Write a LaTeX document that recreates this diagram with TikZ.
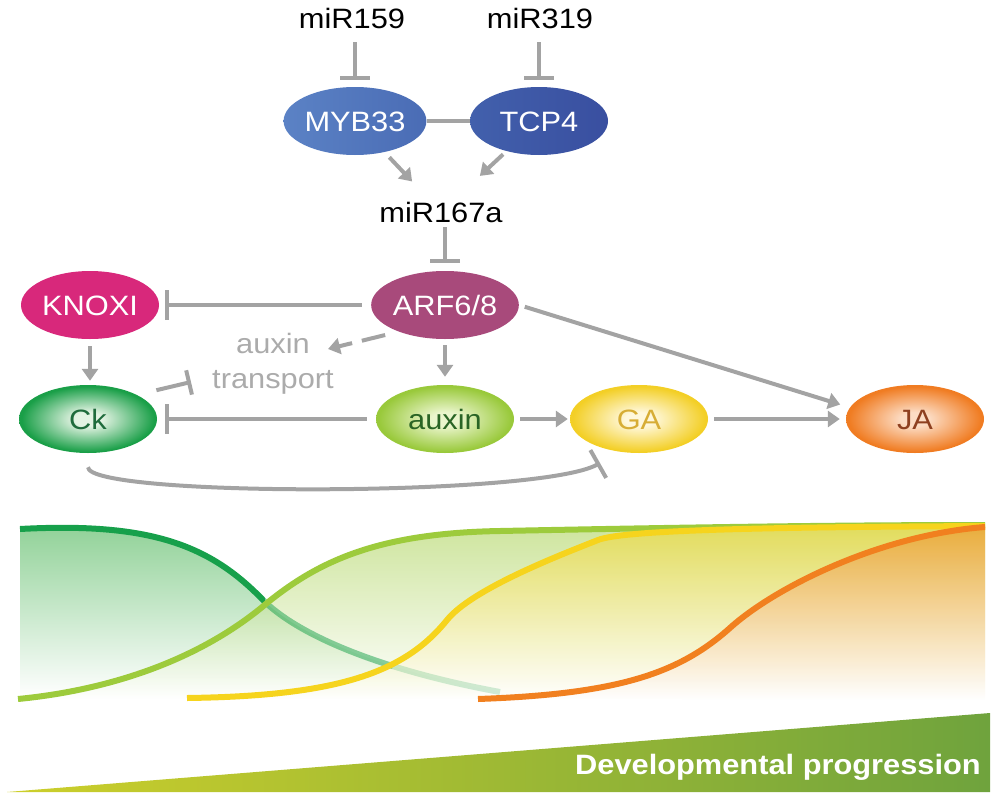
\documentclass[tikz,border=0pt]{standalone}
\usepackage{fontspec}
\setmainfont{Liberation Sans}[FakeStretch=1.1]
\usepackage{xcolor}
\usepackage{tikz}
\usetikzlibrary{shapes.geometric}
\usetikzlibrary{arrows.meta}
\tikzset{>={Triangle[width=16pt,length=12pt]}}

\definecolor{lgray}{HTML}{A3A3A3}
\definecolor{txtgray}{HTML}{ABABAB}
\definecolor{mybl}{HTML}{5B82C5}
\definecolor{mybr}{HTML}{4A6CB5}
\definecolor{tcpl}{HTML}{4260AC}
\definecolor{tcpr}{HTML}{394FA0}
\definecolor{knoxc}{HTML}{D8287B}
\definecolor{arfc}{HTML}{A84A7B}
\definecolor{ckin}{HTML}{E3F3E3}
\definecolor{ckout}{HTML}{1A9F48}
\definecolor{cktxt}{HTML}{1F6B3C}
\definecolor{auxin}{HTML}{EAF5CC}
\definecolor{auxout}{HTML}{99C93B}
\definecolor{auxtxt}{HTML}{2A6425}
\definecolor{gain}{HTML}{FFF8DC}
\definecolor{gaout}{HTML}{F3CF26}
\definecolor{gatxt}{HTML}{D7AD35}
\definecolor{jain}{HTML}{FCDCC4}
\definecolor{jaout}{HTML}{F07C22}
\definecolor{jatxt}{HTML}{8E4020}
\definecolor{ckline}{HTML}{17A04B}
\definecolor{ckfill}{HTML}{1FA32D}
\definecolor{auxline}{HTML}{9DCB3C}
\definecolor{galine}{HTML}{F6D41D}
\definecolor{jaline}{HTML}{F1801F}
\definecolor{tria}{HTML}{CDCF2B}
\definecolor{trib}{HTML}{AABF39}
\definecolor{tric}{HTML}{6FA33D}

\pgfdeclareradialshading{ckglow}{\pgfpoint{0bp}{0bp}}{color(0bp)=(ckin); color(5bp)=(ckin); color(24bp)=(ckout); color(50bp)=(ckout)}
\pgfdeclareradialshading{auxglow}{\pgfpoint{0bp}{0bp}}{color(0bp)=(auxin); color(5bp)=(auxin); color(24bp)=(auxout); color(50bp)=(auxout)}
\pgfdeclareradialshading{gaglow}{\pgfpoint{0bp}{0bp}}{color(0bp)=(gain); color(5bp)=(gain); color(24bp)=(gaout); color(50bp)=(gaout)}
\pgfdeclareradialshading{jaglow}{\pgfpoint{0bp}{0bp}}{color(0bp)=(jain); color(5bp)=(jain); color(24bp)=(jaout); color(50bp)=(jaout)}

\tikzset{
  gene/.style={ellipse, minimum width=138pt, minimum height=68pt, inner sep=0pt,
    text=white, text height=20pt, text depth=0pt, font=\fontsize{28}{32}\selectfont},
  mir/.style={anchor=base, inner sep=0pt, font=\fontsize{28}{32}\selectfont},
  note/.style={align=center, inner sep=0pt, text=txtgray, font=\fontsize{28}{35}\selectfont},
  link/.style={line width=4pt, draw=lgray},
  act/.style={link, ->},
  inh/.style={link, -{Bar[width=30pt]}},
  curve/.style={line width=6pt},
  level/.style={bottom color=white, fill opacity=0.5}
}

\newcommand\ckcurve{(20,529) .. controls (150,522) and (210,545) .. (263,600) .. controls (298,635) and (380,670) .. (500,692)}
\newcommand\auxcurve{(18,699) .. controls (110,690) and (200,660) .. (267,603) .. controls (320,560) and (380,533) .. (500,531) .. controls (700,527) and (850,525) .. (985,525)}
\newcommand\gacurve{(187,698) .. controls (340,696) and (405,672) .. (447,620) .. controls (472,589) and (560,555) .. (598,540) .. controls (625,529) and (800,527) .. (985,526)}
\newcommand\jacurve{(478,699) .. controls (620,694) and (680,673) .. (731,627) .. controls (776,587) and (880,535) .. (985,527)}

\begin{document}
\begin{tikzpicture}[x=1pt,y=-1pt]
\useasboundingbox (0,0) rectangle (998,800);

\node[mir] (m159) at (352,29){miR159};
\node[mir] (m319) at (540,29){miR319};
\node[gene, left color=mybl, right color=mybr] (myb) at (355,121){MYB33};
\node[gene, left color=tcpl, right color=tcpr] (tcp) at (539,121){TCP4};
\node[mir] (m167) at (441,222){miR167a};
\node[gene, fill=arfc] (arf) at (445,305){ARF6/8};
\node[gene, fill=knoxc] (knoxi) at (90,305){KNOXI};
\node[note] (trans) at (273,363.5){auxin\\transport};
\node[gene, shade, shading=ckglow, text=cktxt] (ck) at (88,419){Ck};
\node[gene, shade, shading=auxglow, text=auxtxt] (auxin) at (445,419){auxin};
\node[gene, shade, shading=gaglow, text=gatxt] (ga) at (639,419){GA};
\node[gene, shade, shading=jaglow, text=jatxt] (ja) at (915,419){JA};

\coordinate (trtip) at (328,349);
\coordinate (trbar) at (191,382);
\coordinate (gabar) at (600,463);

\draw[inh, shorten <=13pt, shorten >=7pt] (myb.north |- m159.south) -- (myb.north);
\draw[inh, shorten <=13pt, shorten >=7pt] (tcp.north |- m319.south) -- (tcp.north);
\draw[link] (myb.east) -- (tcp.west);
\draw[act, shorten <=50pt, shorten >=42pt] (myb.center) -- (m167.center);
\draw[act, shorten <=49pt, shorten >=53pt] (tcp.center) -- (m167.center);
\draw[inh, shorten <=5pt, shorten >=8pt] (arf.north |- m167.south) -- (arf.north);
\draw[inh, shorten <=9pt, shorten >=6pt] (arf.west) -- (knoxi.east);
\draw[act, dash pattern=on 24pt off 10pt, shorten <=14pt] (arf.210) -- (trtip);
\draw[act, shorten <=7pt, shorten >=4pt] (knoxi.south) -- (knoxi.south |- ck.north);
\draw[act, shorten <=6pt, shorten >=8pt] (arf.south) -- (auxin.north);
\draw[inh, -{Bar[width=25pt]}, shorten <=20pt] (ck.north east) -- (trbar);
\draw[inh, shorten <=9pt, shorten >=8pt] (auxin.west) -- (ck.east);
\draw[act, shorten <=6pt, shorten >=2pt] (auxin.east) -- (ga.west);
\draw[act, shorten <=6pt, shorten >=6pt] (ga.east) -- (ja.west);
\draw[act, shorten <=6pt, shorten >=10pt] (arf.east) -- (ja.170);
\draw[inh, -{Bar[width=32pt]}, shorten <=14pt] (ck.south) .. controls +(0,44) and +(-60,34) .. (gabar);

% hormone levels
\shade[level, top color=ckfill] \ckcurve -- (500,697) -- (20,697) -- cycle;
\shade[level, top color=auxline] \auxcurve -- (985,700) -- cycle;
\shade[level, top color=galine] \gacurve -- (985,700) -- cycle;
\shade[level, top color=jaline] \jacurve -- (985,700) -- cycle;
\begin{scope}
\clip (0,500) rectangle (265,710);
\draw[curve, draw=ckline] \ckcurve;
\end{scope}
\begin{scope}
\clip (265,500) rectangle (392,710);
\draw[curve, draw=ckline, draw opacity=0.5] \ckcurve;
\end{scope}
\begin{scope}
\clip (392,500) rectangle (520,710);
\draw[curve, draw=ckline, draw opacity=0.2] \ckcurve;
\end{scope}
\draw[curve, draw=auxline] \auxcurve;
\draw[curve, draw=galine] \gacurve;
\draw[curve, draw=jaline] \jacurve;

\shade[left color=tria, middle color=trib, right color=tric] (7,792) -- (990,713) -- (990,792) -- cycle;
\node[anchor=base east, inner sep=0pt, text=white, font=\bfseries\fontsize{28}{32}\selectfont] (dev) at (981,774){Developmental progression};
\end{tikzpicture}
\end{document}
